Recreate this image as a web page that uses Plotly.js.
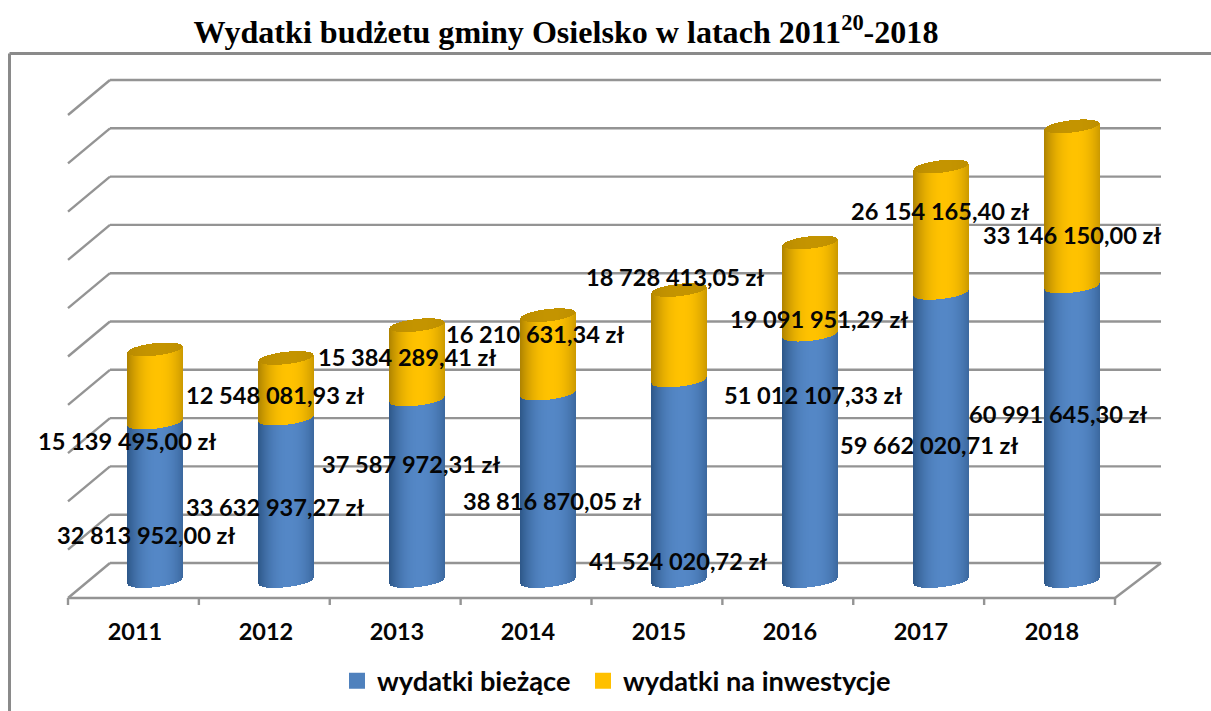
<!DOCTYPE html>
<html><head><meta charset="utf-8">
<script src="https://cdn.plot.ly/plotly-3.0.1.min.js"></script>
<style>html,body{margin:0;padding:0;background:#fff;overflow:hidden}</style>
</head><body><div id="chart" style="width:1211px;height:711px"></div>
<script>
// ---- data (zł) ----
const years = ['2011','2012','2013','2014','2015','2016','2017','2018'];
const wydatkiBiezace = [32813952.00,33632937.27,37587972.31,38816870.05,41524020.72,51012107.33,59662020.71,60991645.30];
const wydatkiInwestycje = [15139495.00,12548081.93,15384289.41,16210631.34,18728413.05,19091951.29,26154165.40,33146150.00];
const gridValues = [0,1e7,2e7,3e7,4e7,5e7,6e7,7e7,8e7,9e7,1e8];

// ---- label placement (page pixels, label centres) ----
const blueLabelX = [146,275,411,552,678,813,929,1058];
const blueLabelY = [535,507,464,501,561,395,445,414];
const goldLabelX = [127,275,407,535,675,819,940,1072];
const goldLabelY = [441,395,357,334,277,319,211,235];

// ---- geometry ----
const PL=60,PR=1168,PT=74,PB=612;           // plot box
const L=68,R=1161,FB=598, X0=135, STEP=131, Y0=581, PXM=4.83e-6, DEPTHX=42, DEPTHY=34, BACK=18;
const BARSHIFT=20/STEP, HALF=27.5, ELL=6.2, TILT=3;
const px2x=p=>(p-X0)/STEP, px2y=p=>(Y0-p)/PXM, dy=d=>-d/PXM;
const frontArc=u=>ELL*Math.sqrt(Math.max(0,1-u*u))-TILT*u;
const backArc=u=>-ELL*Math.sqrt(Math.max(0,1-u*u))-TILT*u;
function shade(rgbMid,rgbEdge,u){
  const t=Math.pow(Math.abs(u-0.1)/1.1,2.2);
  return 'rgb('+rgbMid.map((c,i)=>Math.round(c+(rgbEdge[i]-c)*t)).join(',')+')';
}
const strips=[];for(let k=-HALF;k<=HALF;k+=1)strips.push(k);

function cyl(name,baseFn,topFn,mid,edge){
  const x=[],base=[],y=[],col=[];
  years.forEach((yr,i)=>{
    strips.forEach(k=>{
      const u=k/HALF, b=baseFn(i,u), t=topFn(i,u);
      x.push(i+BARSHIFT+k/STEP); base.push(b); y.push(t-b); col.push(shade(mid,edge,u));
    });
  });
  return {type:'bar',name:name,x:x,y:y,base:base,width:1.4/STEP,marker:{color:col,line:{width:0}},showlegend:false,hoverinfo:'skip'};
}
const total=i=>wydatkiBiezace[i]+wydatkiInwestycje[i];
const BLUE=[84,135,198], BLUED=[46,88,138], GOLD=[255,194,0], GOLDD=[176,132,0], CAP=[196,148,0], CAPD=[184,138,0];
const traces=[
  cyl('b',(i,u)=>dy(frontArc(u)),(i,u)=>wydatkiBiezace[i]+dy(frontArc(u)),BLUE,BLUED),
  cyl('g',(i,u)=>wydatkiBiezace[i]+dy(frontArc(u)),(i,u)=>total(i)+dy(frontArc(u)),GOLD,GOLDD),
  cyl('c',(i,u)=>total(i)+dy(frontArc(u)),(i,u)=>total(i)+dy(backArc(u)),CAP,CAPD),
  {type:'scatter',mode:'markers',name:'wydatki bieżące',legend:'legend',x:[null],y:[null],marker:{symbol:'square',size:16,color:'#4f81bd'},hoverinfo:'skip'},
  {type:'scatter',mode:'markers',name:'wydatki na inwestycje',legend:'legend2',x:[null],y:[null],marker:{symbol:'square',size:16,color:'#ffc000'},hoverinfo:'skip'}
];

// ---- walls, floor, ticks ----
const GRID='#949494';
const shapes=[];
const seg=(x0,y0,x1,y1,w)=>shapes.push({type:'line',layer:'below',xref:'x',yref:'y',x0:px2x(x0),y0:px2y(y0),x1:px2x(x1),y1:px2y(y1),line:{color:GRID,width:w||2.4}});
gridValues.forEach(v=>{
  const yb=Y0-v*PXM-BACK;
  seg(L+DEPTHX,yb,R,yb);
  seg(L,yb+DEPTHY+1,L+DEPTHX,yb);
});
seg(L,FB,1115,FB);
seg(1115,FB,R,FB-DEPTHY-1);
for(let i=0;i<=8;i++){const p=L+i*(1115-L)/8;seg(p,FB,p,FB+7);}
// outer frame
const fx=p=>(p-PL)/(PR-PL), fy=p=>1-(p-PT)/(PB-PT);
[[9.5,711,9.5,53.5],[9.5,53.5,1211,53.5]].forEach(s=>shapes.push({type:'line',layer:'below',xref:'paper',yref:'paper',x0:fx(s[0]),y0:fy(s[1]),x1:fx(s[2]),y1:fy(s[3]),line:{color:'#8a8a8a',width:3}}));

// ---- value labels ----
const fmt=v=>{const p=v.toFixed(2).split('.');return p[0].replace(/\B(?=(\d{3})+$)/g,' ')+','+p[1]+' zł';};
const LABELFONT={family:'Lato, sans-serif',size:23.6,color:'#050505',weight:700};
const ann=(v,x,y)=>({xref:'x',yref:'y',x:px2x(x),y:px2y(y),text:fmt(v),showarrow:false,xanchor:'center',yanchor:'middle',font:LABELFONT});
const annotations=[];
years.forEach((yr,i)=>{
  annotations.push(ann(wydatkiBiezace[i],blueLabelX[i],blueLabelY[i]));
  annotations.push(ann(wydatkiInwestycje[i],goldLabelX[i],goldLabelY[i]));
});

const LEGFONT={family:'Lato, sans-serif',size:27.2,color:'#050505',weight:700};
const layout={
  width:1211,height:711,autosize:false,paper_bgcolor:'#fff',plot_bgcolor:'rgba(0,0,0,0)',
  margin:{l:PL,r:1211-PR,t:PT,b:711-PB,pad:0,autoexpand:false},
  barmode:'overlay',bargap:0,
  title:{text:'Wydatki budżetu gminy Osielsko w latach 2011<sup><b>20</b></sup>-2018',xref:'container',yref:'container',
    x:566/1211,xanchor:'center',y:1-32/711,yanchor:'middle',
    font:{family:'Liberation Serif, serif',size:32.1,color:'#000',weight:700}},
  xaxis:{type:'linear',range:[px2x(PL),px2x(PR)],tickmode:'array',tickvals:years.map((y,i)=>i),ticktext:years,
    showgrid:false,zeroline:false,showline:false,ticks:'',ticklabelstandoff:3,
    tickfont:{family:'Lato, sans-serif',size:23.5,color:'#050505',weight:700},fixedrange:true},
  yaxis:{range:[px2y(PB),px2y(PT)],visible:false,fixedrange:true,showgrid:false,zeroline:false},
  shapes:shapes,annotations:annotations,
  showlegend:true,
  legend:{xref:'container',yref:'container',x:337/1211,xanchor:'left',y:1-681/711,yanchor:'middle',font:LEGFONT,bgcolor:'rgba(0,0,0,0)',itemwidth:30},
  legend2:{xref:'container',yref:'container',x:583/1211,xanchor:'left',y:1-681/711,yanchor:'middle',font:LEGFONT,bgcolor:'rgba(0,0,0,0)',itemwidth:30}
};
Plotly.newPlot('chart',traces,layout,{displayModeBar:false,staticPlot:true});
</script></body></html>
